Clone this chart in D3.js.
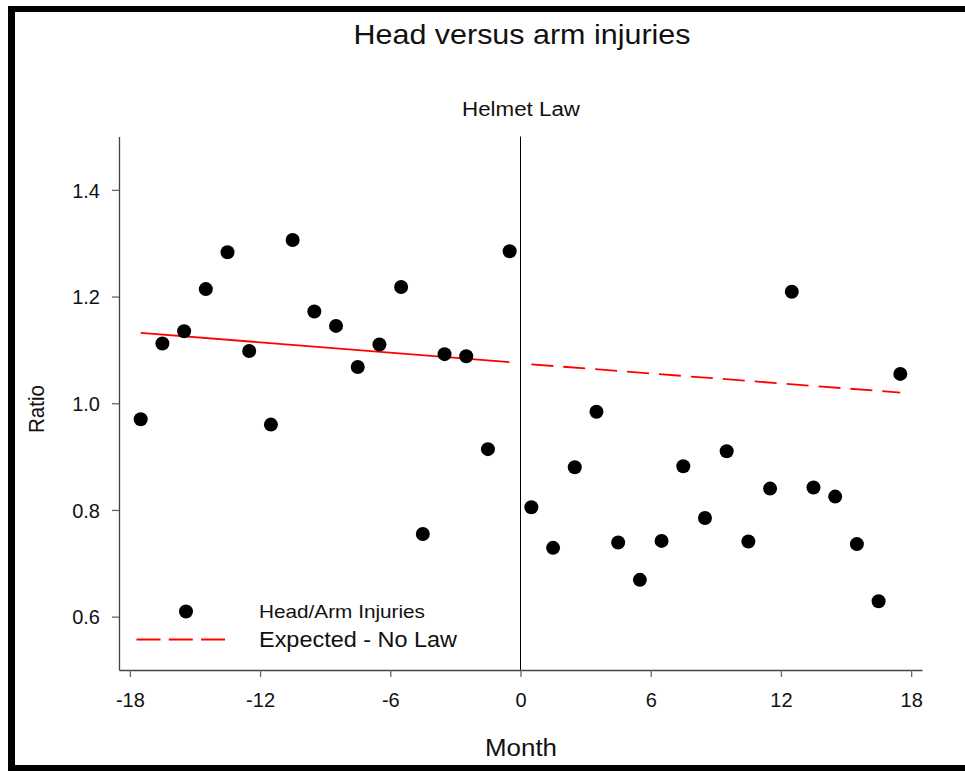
<!DOCTYPE html>
<html>
<head>
<meta charset="utf-8">
<script src="https://cdn.jsdelivr.net/npm/d3@7"></script>
<style>
  body { margin: 0; background: #fff; }
  text { font-family: "Liberation Sans", Arial, sans-serif; fill: #111; }
</style>
</head>
<body>
<svg width="965" height="771"></svg>
<script>
var svg = d3.select("svg");

// months since the helmet law (mid-month points)
var months = [-17.5, -16.5, -15.5, -14.5, -13.5, -12.5, -11.5, -10.5, -9.5, -8.5, -7.5, -6.5,
  -5.5, -4.5, -3.5, -2.5, -1.5, -0.5, 0.5, 1.5, 2.5, 3.5, 4.5, 5.5, 6.5, 7.5, 8.5, 9.5,
  10.5, 11.5, 12.5, 13.5, 14.5, 15.5, 16.5, 17.5];
var ratios = [0.970, 1.112, 1.135, 1.214, 1.283, 1.098, 0.960, 1.306, 1.172, 1.145, 1.068, 1.110,
  1.218, 0.755, 1.092, 1.088, 0.914, 1.285, 0.805, 0.729, 0.880, 0.984, 0.739, 0.669, 0.742, 0.882,
  0.785, 0.910, 0.741, 0.840, 1.209, 0.842, 0.825, 0.736, 0.629, 1.055];

// expected trend, observed before the law and projected after
var trendMonths = [-17.5, -0.5];
var trendValues = [1.132, 1.077];
var projMonths = [0.5, 17.5];
var projValues = [1.073, 1.020];

var xTicks = [-18, -12, -6, 0, 6, 12, 18];
var yTicks = [0.6, 0.8, 1.0, 1.2, 1.4];

var x = d3.scaleLinear().domain([-18.5, 18.5]).range([119, 922]);
var y = d3.scaleLinear().domain([0.5, 1.5]).range([670, 136.5]);

// frame
svg.append("rect").attr("x", 8).attr("y", 6).attr("width", 957).attr("height", 6).attr("fill", "#000");
svg.append("rect").attr("x", 8).attr("y", 6).attr("width", 7).attr("height", 765).attr("fill", "#000");
svg.append("rect").attr("x", 8).attr("y", 765).attr("width", 957).attr("height", 6).attr("fill", "#000");

function label(txt, px, py, size, len, anchor, rotate) {
  var t = svg.append("text")
    .attr("font-size", size)
    .attr("text-anchor", anchor || "start")
    .attr("textLength", len)
    .attr("lengthAdjust", "spacingAndGlyphs")
    .text(txt);
  if (rotate) t.attr("transform", "translate(" + px + "," + py + ") rotate(-90)");
  else t.attr("x", px).attr("y", py);
  return t;
}

label("Head versus arm injuries", 522, 44, 28, 337, "middle");
label("Helmet Law", 521, 116, 20, 118, "middle");
label("Month", 521, 756, 23, 72, "middle");
label("Ratio", 44, 409, 22, 48, "middle", true);

// axes
var hyphen = function(d) { return String(d); };
var xAxis = svg.append("g")
  .attr("transform", "translate(0,670)")
  .call(d3.axisBottom(x).tickValues(xTicks).tickSize(7).tickSizeOuter(0).tickFormat(hyphen));
var yAxis = svg.append("g")
  .attr("transform", "translate(119,0)")
  .call(d3.axisLeft(y).tickValues(yTicks).tickSize(7).tickSizeOuter(0).tickFormat(d3.format(".1f")));

[xAxis, yAxis].forEach(function(a) {
  a.select(".domain").attr("stroke", "#444").attr("stroke-width", 1.3);
  a.selectAll(".tick line").attr("stroke", "#666").attr("stroke-width", 1.3);
  a.selectAll(".tick text")
    .attr("font-family", "Liberation Sans, Arial, sans-serif")
    .attr("font-size", 20)
    .attr("fill", "#111");
});
xAxis.selectAll(".tick text").attr("dy", null).attr("y", 37);
yAxis.selectAll(".tick text").attr("x", -19).attr("dy", "0.36em");

// law line at month 0
svg.append("line")
  .attr("x1", x(0)).attr("x2", x(0))
  .attr("y1", y(1.5)).attr("y2", y(0.5))
  .attr("stroke", "#000").attr("stroke-width", 1);

var line = d3.line().x(function(d) { return x(d[0]); }).y(function(d) { return y(d[1]); });

svg.append("path")
  .datum(d3.zip(trendMonths, trendValues))
  .attr("d", line)
  .attr("fill", "none").attr("stroke", "#ff0000").attr("stroke-width", 1.8);

svg.append("path")
  .datum(d3.zip(projMonths, projValues))
  .attr("d", line)
  .attr("fill", "none").attr("stroke", "#ff0000").attr("stroke-width", 1.8)
  .attr("stroke-dasharray", "22,10");

svg.append("g")
  .selectAll("circle")
  .data(d3.zip(months, ratios))
  .enter().append("circle")
  .attr("cx", function(d) { return x(d[0]); })
  .attr("cy", function(d) { return y(d[1]); })
  .attr("r", 7)
  .attr("fill", "#000");

// legend
svg.append("circle").attr("cx", 186).attr("cy", 611.5).attr("r", 7).attr("fill", "#000");
svg.append("line")
  .attr("x1", 136.5).attr("x2", 225).attr("y1", 639.5).attr("y2", 639.5)
  .attr("stroke", "#ff0000").attr("stroke-width", 1.8)
  .attr("stroke-dasharray", "24,8.3");
label("Head/Arm Injuries", 259, 617.5, 19, 166);
label("Expected - No Law", 259, 646.5, 22, 198);
</script>
</body>
</html>
